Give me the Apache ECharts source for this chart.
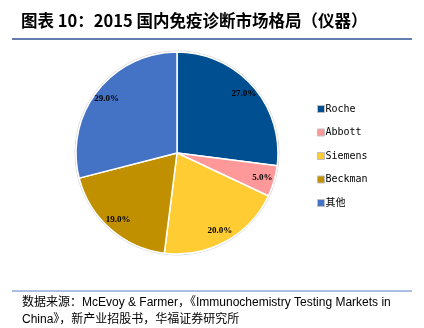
<!DOCTYPE html>
<html><head><meta charset="utf-8">
<script src="https://cdn.jsdelivr.net/npm/echarts@6/dist/echarts.min.js"></script>
<style>html,body{margin:0;padding:0;background:#fff}#c{width:424px;height:328px}</style>
</head><body><div id="c"></div>
<script>
const categories = ['Roche', 'Abbott', 'Siemens', 'Beckman', '其他'];
const values = [27.0, 5.0, 20.0, 19.0, 29.0];
const colors = ['#004F91', '#FF9999', '#FFCC33', '#C09000', '#4472C4'];
const titleText = '图表 10：2015 国内免疫诊断市场格局（仪器）';
const sourceText = '数据来源：McEvoy & Farmer，《Immunochemistry Testing Markets in\nChina》，新产业招股书，华福证券研究所';

const data = categories.map((n, i) => ({ name: n, value: values[i], itemStyle: { color: colors[i] } }));
const chart = echarts.init(document.getElementById('c'), null, { renderer: 'canvas' });
chart.setOption({
  animation: false,
  backgroundColor: '#fff',
  graphic: [
    { type: 'text', left: 21, top: 12, style: { text: titleText, font: 'bold 16.5px "Noto Sans CJK SC", sans-serif', fill: '#000' } },
    { type: 'line', shape: { x1: 12, y1: 39, x2: 412, y2: 39 }, style: { stroke: '#2F5597', lineWidth: 1.5 } },
    { type: 'line', shape: { x1: 12, y1: 291, x2: 412, y2: 291 }, style: { stroke: '#8FAADC', lineWidth: 1.5 } },
    { type: 'text', left: 22, top: 294, style: { text: sourceText, font: '12px "Liberation Sans", "Noto Sans CJK SC", sans-serif', fill: '#000', lineHeight: 17 } },
    { type: 'circle', shape: { cx: 177, cy: 153, r: 102 }, style: { fill: 'none', stroke: '#d9d9d9', lineWidth: 1 }, z: -1 }
  ],
  legend: {
    orient: 'vertical', left: 312, top: 99, itemGap: 13.5, itemWidth: 7, itemHeight: 7,
    icon: 'rect',
    itemStyle: { borderColor: '#bfbfbf', borderWidth: 1 },
    textStyle: { fontFamily: '"DejaVu Sans Mono", "Noto Sans CJK SC", monospace', fontSize: 10, color: '#000', padding: [0, 0, 0, -4] },
    data: categories
  },
  series: [
    {
      type: 'pie', center: [177, 153], radius: [0, 101], startAngle: 90, clockwise: true,
      label: { show: false }, labelLine: { show: false },
      itemStyle: { borderColor: '#fff', borderWidth: 1.5 },
      data: data
    },
    {
      type: 'pie', center: [177, 153], radius: [72, 100], startAngle: 90, clockwise: true,
      silent: true, legendHoverLink: false,
      itemStyle: { color: 'rgba(0,0,0,0)' },
      label: { show: true, position: 'inside', formatter: p => p.value.toFixed(1) + '%',
        fontFamily: '"Liberation Serif", serif', fontWeight: 'bold', fontSize: 9, color: '#000' },
      labelLine: { show: false },
      data: categories.map((n, i) => ({ name: n + ' ', value: values[i] }))
    }
  ]
});
</script></body></html>
